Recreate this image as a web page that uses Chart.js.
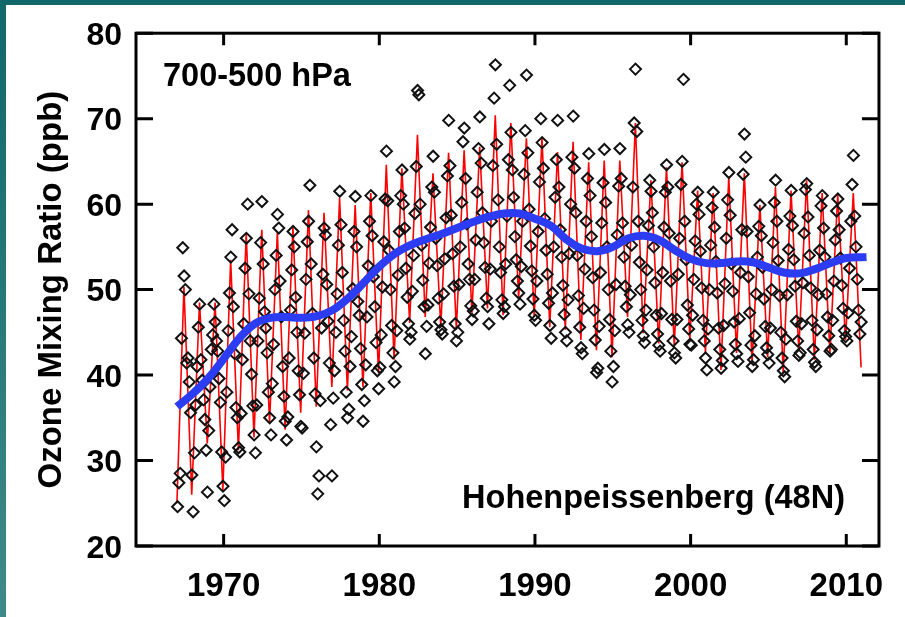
<!DOCTYPE html>
<html>
<head>
<meta charset="utf-8">
<script src="https://cdn.jsdelivr.net/npm/chart.js@4.4.0/dist/chart.umd.min.js"></script>
<style>
  html, body { margin: 0; padding: 0; background: #fff; }
  body { width: 905px; height: 617px; position: relative; overflow: hidden; }
  #wrap { position: absolute; left: 0; top: 0; width: 905px; height: 617px; }
  #topBar { position: absolute; left: 0; top: 0; width: 905px; height: 5px; background: #11676a; }
  #leftBar { position: absolute; left: 0; top: 0; width: 6px; height: 617px; background: linear-gradient(#11676a, #3f8a88); }
</style>
</head>
<body>
<div id="wrap"><canvas id="myChart"></canvas></div>
<div id="topBar"></div>
<div id="leftBar"></div>
<script>
// years of the record (one row of monthly values per year)
const years = [1967,1968,1969,1970,1971,1972,1973,1974,1975,1976,1977,1978,1979,1980,1981,
  1982,1983,1984,1985,1986,1987,1988,1989,1990,1991,1992,1993,1994,1995,1996,1997,1998,
  1999,2000,2001,2002,2003,2004,2005,2006,2007,2008,2009,2010];

// red seasonal curve: summer maximum and the winter minimum that follows it
const redStart = 25.0;
const redPeaks = [50.3,48.5,48.5,53.5,56.6,57.0,56.7,57.3,59.3,59.0,60.7,59.9,61.3,64.6,64.2,
  68.1,63.6,66.0,66.3,66.7,70.4,69.5,67.7,67.8,66.1,67.3,64.9,65.1,65.1,69.5,62.8,64.3,
  64.9,61.6,61.3,63.2,63.6,59.9,62.0,61.6,62.8,61.3,61.1,61.3];
const redTroughs = [26.0,32.0,26.5,31.2,32.7,34.4,33.6,35.6,36.3,38.6,38.2,38.6,40.2,41.8,46.1,
  46.8,45.6,45.3,47.3,47.8,47.0,49.0,46.8,45.6,45.3,44.1,42.9,42.1,46.8,44.9,43.7,43.3,
  44.1,42.6,40.6,42.6,41.4,42.1,40.2,42.9,41.8,42.6,44.1,40.9];

// blue long-term trend
const trendYears = [1967,1968,1969,1970,1971,1972,1973,1974,1975,1976,1977,1978,1979,1980,1981,
  1982,1983,1984,1985,1986,1987,1988,1989,1990,1991,1992,1993,1994,1995,1996,1997,1998,
  1999,2000,2001,2002,2003,2004,2005,2006,2007,2008,2009,2010,2011.3];
const trendValues = [36.3,37.8,39.6,41.9,44.3,46.0,46.7,46.8,46.7,46.9,47.6,49.0,50.8,52.7,54.2,
  55.2,55.9,56.5,57.2,57.9,58.5,58.9,58.9,58.3,57.5,55.9,54.8,54.5,55.0,56.0,56.3,55.8,
  54.6,53.6,53.1,53.1,53.3,53.2,52.6,52.0,51.9,52.4,53.1,53.7,53.8];

// monthly observations (Jan..Dec), one row per year
const monthlyObs = [
  [24.6,27.4,28.5,44.3,54.9,51.6,50.0,41.4,42.0,39.2,35.6,28.3],
  [24.0,30.9,36.5,41.0,45.6,48.3,41.8,39.4,37.1,34.8,31.2,26.3],
  [33.5,38.6,43.0,44.7,48.3,46.2,44.0,42.8,39.6,36.8,31.0,27.0],
  [25.3,30.4,38.0,45.2,49.6,53.8,57.0,48.0,42.5,36.2,35.0,31.5],
  [31.0,35.5,41.8,46.0,52.5,56.0,60.0,49.5,44.0,40.1,36.4,33.0],
  [30.9,36.5,44.0,49.0,55.5,60.3,53.0,47.4,45.5,42.6,38.0,35.0],
  [33.0,39.0,43.6,50.0,54.0,58.8,57.2,51.0,46.8,41.0,37.5,34.6],
  [32.4,35.1,42.0,47.6,52.3,56.8,55.0,49.1,45.0,40.5,37.7,34.0],
  [33.8,40.2,44.9,51.2,55.6,58.0,62.2,53.0,47.2,42.0,37.8,31.6],
  [26.1,28.2,37.0,45.5,51.8,57.2,56.4,50.6,46.3,41.4,34.2,28.2],
  [37.3,40.5,45.0,49.5,55.2,61.5,57.6,52.0,46.4,42.8,38.0,35.0],
  [36.0,41.0,44.5,50.1,56.8,60.9,55.0,48.6,47.0,43.1,38.9,34.6],
  [37.0,41.2,46.8,52.8,58.0,61.0,56.3,51.5,48.0,43.8,40.5,38.4],
  [40.9,44.7,50.3,55.6,60.6,66.2,60.4,54.6,50.0,45.8,42.6,39.2],
  [41.0,45.2,51.7,56.8,61.0,64.0,60.0,57.2,52.5,49.1,46.0,44.2],
  [45.0,49.8,54.0,58.9,64.4,73.3,72.8,60.0,55.2,51.1,48.0,42.5],
  [45.7,48.2,53.1,57.3,62.0,65.6,61.4,56.0,52.8,49.0,46.2,45.3],
  [44.8,49.5,53.6,58.4,63.3,69.8,64.5,58.7,54.2,50.4,46.0,44.0],
  [45.0,50.6,55.0,60.2,67.3,68.9,63.0,57.7,53.0,51.2,48.1,46.5],
  [47.5,51.2,55.8,61.4,66.5,70.2,64.8,59.0,55.5,52.6,49.0,48.0],
  [46.0,52.4,58.0,64.5,72.4,76.3,67.0,60.5,55.0,52.0,48.8,47.2],
  [48.0,53.0,58.6,65.2,73.9,68.4,64.0,60.8,56.2,53.5,51.0,49.6],
  [48.3,52.7,58.0,63.5,68.6,75.1,66.0,59.4,55.1,52.2,48.9,47.0],
  [46.4,51.0,56.8,62.6,70.0,67.2,64.2,58.3,54.6,51.8,48.4,45.8],
  [44.3,49.6,55.0,60.8,65.2,69.8,62.0,57.0,53.8,50.5,47.1,45.0],
  [44.0,48.8,54.2,60.0,65.5,70.3,64.2,59.0,54.0,49.3,45.6,43.2],
  [42.5,47.8,52.4,58.0,63.0,65.9,61.0,56.2,51.4,47.6,44.1,40.3],
  [40.8,45.7,52.0,57.8,62.5,66.4,60.2,55.0,50.0,46.5,42.8,39.2],
  [41.0,45.2,50.6,56.4,62.1,66.5,63.0,57.8,53.8,50.4,48.0,45.9],
  [45.0,49.4,55.2,62.0,69.5,75.8,68.5,58.0,53.2,50.0,46.4,44.6],
  [43.8,47.6,52.3,57.5,62.8,61.5,59.0,55.0,50.8,47.0,44.8,43.5],
  [42.8,47.2,52.0,57.3,61.4,64.6,62.0,56.6,51.0,46.5,44.0,42.6],
  [42.0,46.5,51.8,56.0,62.3,65.0,74.6,58.0,53.5,48.2,45.4,43.6],
  [43.5,47.0,51.2,55.7,60.0,61.4,58.8,54.5,50.2,46.4,44.0,42.0],
  [40.6,45.4,50.0,55.2,59.6,61.4,57.3,53.3,49.6,45.5,43.0,40.8],
  [41.7,45.8,50.7,56.0,60.5,63.7,58.7,53.0,49.8,46.2,43.6,42.5],
  [41.6,46.6,52.0,57.0,63.5,68.2,65.5,56.8,51.5,47.3,43.5,41.0],
  [41.8,44.6,49.5,53.8,57.4,59.9,56.3,52.6,48.9,45.7,43.2,42.4],
  [41.4,45.5,50.0,55.5,60.2,62.8,58.0,53.4,49.3,45.0,42.0,40.5],
  [39.8,44.2,49.4,54.7,58.6,61.6,57.5,53.5,50.4,46.3,44.0,42.3],
  [42.6,46.0,50.8,56.6,61.7,62.4,58.5,54.0,50.2,46.4,43.0,41.5],
  [41.0,45.3,49.4,54.6,59.8,61.0,57.2,53.8,49.5,46.8,44.6,42.8],
  [43.0,46.4,51.0,55.8,59.2,60.6,57.0,53.7,50.5,47.8,45.2,44.5],
  [44.0,47.3,52.5,58.0,62.3,65.7,58.6,55.0,51.2,47.6,44.8,46.2]
];

const xTicks = [1970, 1980, 1990, 2000, 2010];
const yTicks = [20, 30, 40, 50, 60, 70, 80];

const FONT = '"Liberation Sans", Arial, Helvetica, sans-serif';

// build point lists from the arrays above
const redPoints = [{ x: years[0], y: redStart }];
years.forEach(function (yr, i) {
  redPoints.push({ x: yr + 0.45, y: redPeaks[i] });
  redPoints.push({ x: yr + 0.95, y: redTroughs[i] });
});

const obsPoints = [];
years.forEach(function (yr, i) {
  monthlyObs[i].forEach(function (v, m) {
    obsPoints.push({ x: yr + (m + 0.5) / 12, y: v });
  });
});

const trendPoints = trendYears.map(function (yr, i) { return { x: yr, y: trendValues[i] }; });

// box, inward ticks and the two text labels
const framePlugin = {
  id: "frame",
  afterDraw(chart) {
    const ctx = chart.ctx;
    const a = chart.chartArea;
    const xs = chart.scales.x, ys = chart.scales.y;
    ctx.save();
    ctx.strokeStyle = "#000";
    ctx.lineWidth = 3;
    ctx.strokeRect(a.left, a.top, a.right - a.left, a.bottom - a.top);
    ctx.beginPath();
    yTicks.forEach(function (v) {
      const py = ys.getPixelForValue(v);
      ctx.moveTo(a.left, py); ctx.lineTo(a.left + 17, py);
      ctx.moveTo(a.right, py); ctx.lineTo(a.right - 17, py);
    });
    xTicks.forEach(function (v) {
      const px = xs.getPixelForValue(v);
      ctx.moveTo(px, a.bottom); ctx.lineTo(px, a.bottom - 12);
      ctx.moveTo(px, a.top); ctx.lineTo(px, a.top + 12);
    });
    ctx.stroke();

    ctx.fillStyle = "#000";
    ctx.font = "bold 32.5px " + FONT;
    ctx.textBaseline = "middle";
    ctx.textAlign = "left";
    ctx.fillText("700-500 hPa", a.left + 27, a.top + 44);
    ctx.textAlign = "right";
    ctx.fillText("Hohenpeissenberg (48N)", a.right - 34, a.bottom - 47);
    ctx.restore();
  }
};

const canvas = document.getElementById("myChart");
const ctx = canvas.getContext("2d");

new Chart(ctx, {
  type: "line",
  data: {
    datasets: [
      {
        data: trendPoints,
        borderColor: "#2b3cf2",
        borderWidth: 8,
        pointRadius: 0,
        tension: 0.4,
        fill: false,
        order: 0
      },
      {
        data: obsPoints,
        showLine: false,
        pointStyle: "rectRot",
        pointRadius: 5.5,
        pointBorderWidth: 2,
        pointBorderColor: "#111",
        pointBackgroundColor: "rgba(255,255,255,0)",
        order: 1
      },
      {
        data: redPoints,
        borderColor: "#ff0000",
        borderWidth: 1.6,
        pointRadius: 0,
        tension: 0,
        fill: false,
        order: 2
      }
    ]
  },
  options: {
    responsive: true,
    maintainAspectRatio: false,
    animation: false,
    layout: { padding: { left: 32, top: 33, right: 23, bottom: 0 } },
    plugins: {
      legend: { display: false },
      tooltip: { enabled: false }
    },
    scales: {
      x: {
        type: "linear",
        min: 1964.37,
        max: 2012.1,
        afterBuildTicks: function (s) { s.ticks = xTicks.map(function (v) { return { value: v }; }); },
        afterFit: function (s) { s.height = 71; },
        grid: { display: false, drawTicks: false },
        border: { display: false },
        ticks: {
          color: "#000",
          padding: 21,
          maxRotation: 0,
          font: { family: FONT, size: 33, weight: "bold" },
          callback: function (v) { return String(v); }
        }
      },
      y: {
        min: 20,
        max: 80,
        afterBuildTicks: function (s) { s.ticks = yTicks.map(function (v) { return { value: v }; }); },
        afterFit: function (s) { s.width = 104; },
        grid: { display: false, drawTicks: false },
        border: { display: false },
        ticks: {
          color: "#000",
          padding: 14,
          labelOffset: 3,
          font: { family: FONT, size: 32, weight: "bold" },
          callback: function (v) { return String(v); }
        },
        title: {
          display: true,
          text: "Ozone Mixing Ratio (ppb)",
          color: "#000",
          padding: { top: 0, bottom: 0 },
          font: { family: FONT, size: 33, weight: "bold" }
        }
      }
    }
  },
  plugins: [framePlugin]
});
</script>
</body>
</html>
